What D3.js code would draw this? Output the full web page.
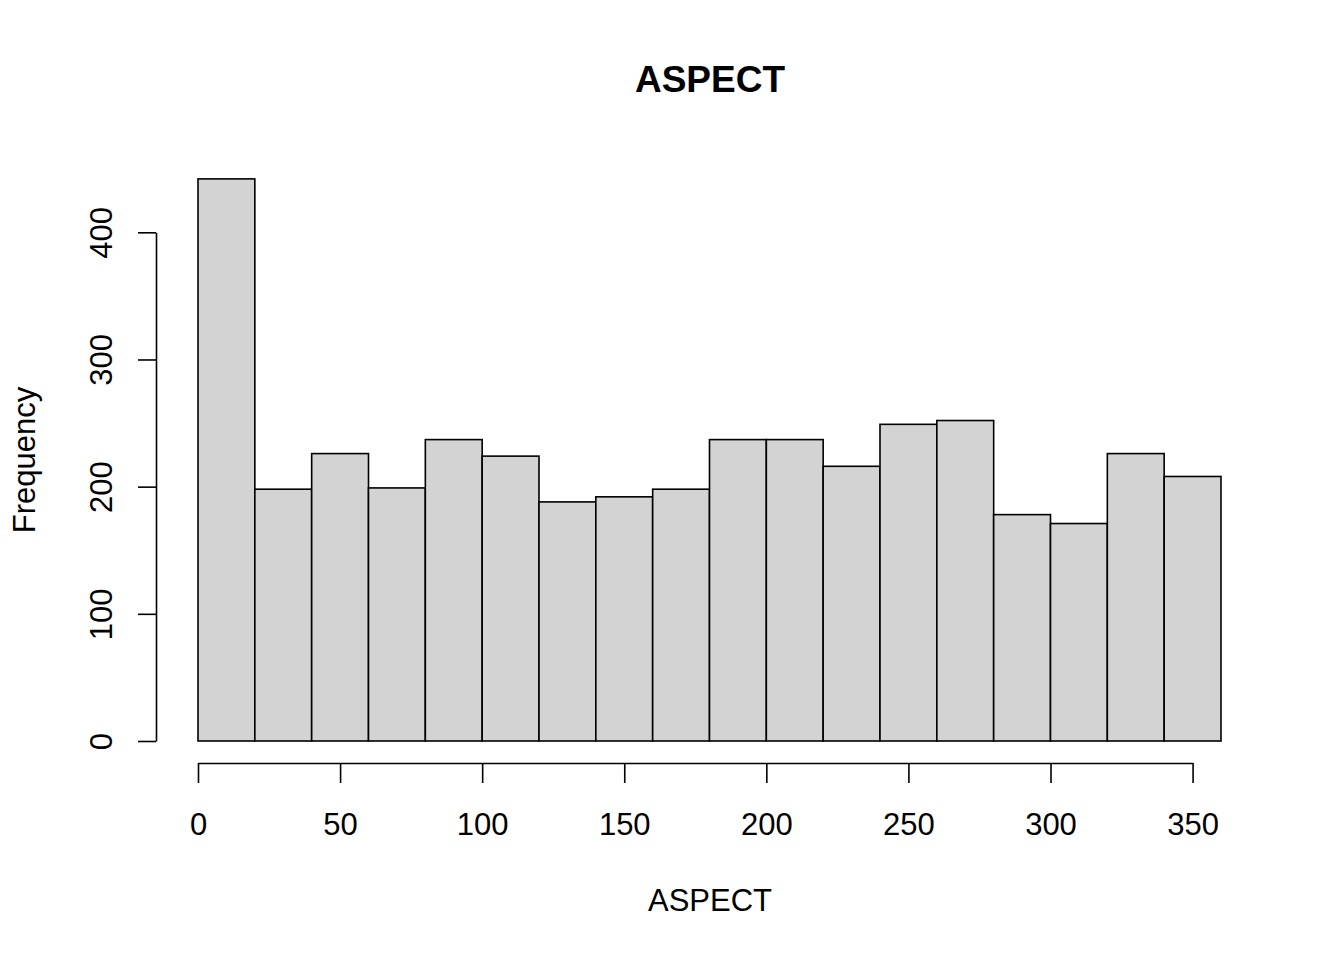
<!DOCTYPE html>
<html>
<head>
<meta charset="utf-8">
<script src="https://cdn.jsdelivr.net/npm/d3@7"></script>
<style>
  body { margin: 0; background: #fff; }
  svg text { font-family: 'Liberation Sans', Arial, sans-serif; fill: #000; }
</style>
</head>
<body>
<div id="chart"></div>
<script>
// histogram of ASPECT, bins of 20 degrees
const binEdges = [0, 20, 40, 60, 80, 100, 120, 140, 160, 180, 200, 220, 240, 260, 280, 300, 320, 340, 360];
const counts = [442, 198, 226, 199, 237, 224, 188, 192, 198, 237, 237, 216, 249, 252, 178, 171, 226, 208];
const xTicks = [0, 50, 100, 150, 200, 250, 300, 350];
const yTicks = [0, 100, 200, 300, 400];

const width = 1344;
const height = 960;

const bins = counts.map((c, i) => ({ x0: binEdges[i], x1: binEdges[i + 1], n: c }));

const x = d3.scaleLinear().domain([0, 360]).range([198, 1221]);
const y = d3.scaleLinear().domain([0, 400]).range([741, 232.3]);

const svg = d3.select('#chart').append('svg')
  .attr('width', width)
  .attr('height', height);

// bars
svg.append('g')
  .selectAll('rect')
  .data(bins)
  .enter().append('rect')
  .attr('x', d => x(d.x0))
  .attr('y', d => y(d.n))
  .attr('width', d => x(d.x1) - x(d.x0))
  .attr('height', d => y(0) - y(d.n))
  .attr('fill', '#d3d3d3')
  .attr('stroke', '#000')
  .attr('stroke-width', 1.6);

// x axis, R style: line only between first and last tick
const xAxisScale = x.copy().domain([0, 350]).range([x(0), x(350)]);
const xAxis = svg.append('g')
  .attr('transform', 'translate(0,763)')
  .call(d3.axisBottom(xAxisScale).tickValues(xTicks).tickSize(20).tickSizeOuter(0).tickPadding(30));
xAxis.selectAll('text').style('font-size', '31px');

// y axis
const yAxis = svg.append('g')
  .attr('transform', 'translate(156,0)')
  .call(d3.axisLeft(y).tickValues(yTicks).tickSize(18).tickSizeOuter(0));
yAxis.selectAll('text')
  .style('font-size', '31px')
  .attr('x', null)
  .attr('dy', null)
  .attr('text-anchor', 'middle')
  .attr('transform', 'translate(-44,0) rotate(-90)');

svg.selectAll('.domain, .tick line')
  .attr('stroke', '#000')
  .attr('stroke-width', 1.6);

// titles
svg.append('text')
  .attr('x', 710)
  .attr('y', 92)
  .attr('text-anchor', 'middle')
  .style('font-size', '37px')
  .style('font-weight', 'bold')
  .text('ASPECT');

svg.append('text')
  .attr('x', 710)
  .attr('y', 911)
  .attr('text-anchor', 'middle')
  .style('font-size', '31px')
  .text('ASPECT');

svg.append('text')
  .attr('transform', 'translate(35,460) rotate(-90)')
  .attr('text-anchor', 'middle')
  .style('font-size', '31px')
  .text('Frequency');
</script>
</body>
</html>
